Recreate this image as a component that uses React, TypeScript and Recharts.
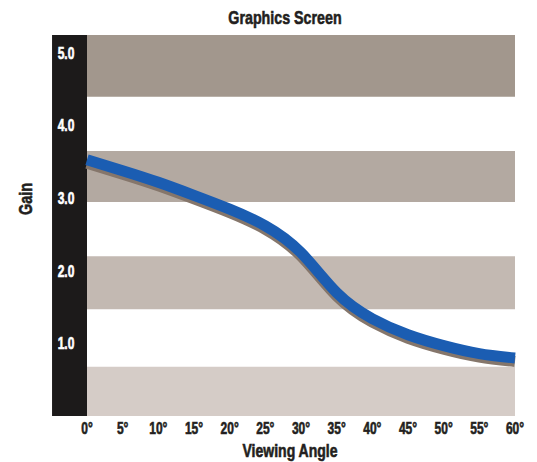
import { Line, LineChart, ReferenceArea, XAxis, YAxis } from "recharts";

const FONT = '"Liberation Sans", Arial, sans-serif';
const INK = "#231f20";

// viewing angle (deg) and screen gain
const angles = [0, 5, 10, 15, 20, 25, 30, 35, 40, 45, 50, 55, 60];
const gain = [3.53, 3.38, 3.22, 3.04, 2.85, 2.62, 2.25, 1.7, 1.34, 1.12, 0.97, 0.86, 0.8];

const gainTicks = [1, 2, 3, 4, 5];

// shaded horizontal bands (gain units), bottom to top
const bandLows = [0, 1.47, 2.95, 4.4];
const bandHighs = [0.68, 2.2, 3.65, 5.25];
const bandColors = ["#d5ccc7", "#c3b9b2", "#b3a9a1", "#a2978d"];

const data = angles.map((a, i) => ({ angle: a, gain: gain[i] }));

// the original uses a heavy condensed face; squeeze a bold sans to match
function Squeezed({ x, y, size, sx = 0.8, rotate = 0, fill = INK, children }: any) {
  return (
    <text
      transform={`translate(${x},${y}) rotate(${rotate}) scale(${sx},1)`}
      textAnchor="middle"
      fill={fill}
      stroke={fill}
      strokeWidth={0.6}
      fontFamily={FONT}
      fontWeight={700}
      fontSize={size}
    >
      {children}
    </text>
  );
}

function GainTick({ y, payload }: any) {
  return (
    <Squeezed x={58} y={y + 5.7} size={16} sx={0.75} fill="#ffffff">
      {Number(payload.value).toFixed(1)}
    </Squeezed>
  );
}

function AngleTick({ x, y, payload }: any) {
  return (
    <Squeezed x={x} y={y + 11} size={16} sx={0.75}>
      {`${payload.value}°`}
    </Squeezed>
  );
}

export default function App() {
  return (
    <div style={{ position: "relative", width: 521, height: 454 }}>
      <style>{`.gain-shadow path { transform: translateY(3.5px); }`}</style>
      <div
        style={{
          position: "absolute",
          left: 277,
          top: 0,
          transform: "translateX(-50%) scaleX(0.75)",
          fontFamily: FONT,
          fontSize: 19,
          fontWeight: 700,
          color: INK,
          WebkitTextStroke: `0.6px ${INK}`,
          whiteSpace: "nowrap",
          lineHeight: "20px",
        }}
      >
        Graphics Screen
      </div>
      <LineChart width={521} height={454} data={data} margin={{ top: 27, right: 14, left: 0, bottom: 0 }}>
        {bandLows.map((lo, i) => (
          <ReferenceArea
            key={i}
            y1={lo}
            y2={bandHighs[i]}
            fill={bandColors[i]}
            fillOpacity={1}
            stroke="none"
          />
        ))}
        <ReferenceArea
          x1={-4.9}
          x2={0}
          y1={0}
          y2={5.25}
          fill="#1c1a1a"
          fillOpacity={1}
          stroke="none"
          ifOverflow="visible"
        />
        <XAxis
          dataKey="angle"
          type="number"
          domain={[0, 60]}
          ticks={angles}
          axisLine={false}
          tickLine={false}
          tickSize={0}
          tickMargin={7}
          height={46}
          interval={0}
          tick={<AngleTick />}
          label={{
            content: () => (
              <Squeezed x={282} y={449} size={18} sx={0.78}>
                Viewing Angle
              </Squeezed>
            ),
          }}
        />
        <YAxis
          type="number"
          domain={[0, 5.25]}
          ticks={gainTicks}
          width={79}
          axisLine={false}
          tickLine={false}
          tick={<GainTick />}
          label={{
            content: () => (
              <Squeezed x={23.5} y={191} size={18} sx={0.8} rotate={-90}>
                Gain
              </Squeezed>
            ),
          }}
        />
        <Line
          className="gain-shadow"
          type="natural"
          dataKey="gain"
          stroke="#85766b"
          strokeWidth={11}
          dot={false}
          activeDot={false}
          isAnimationActive={false}
        />
        <Line
          type="natural"
          dataKey="gain"
          stroke="#1b5db2"
          strokeWidth={11}
          dot={false}
          activeDot={false}
          isAnimationActive={false}
        />
      </LineChart>
    </div>
  );
}
